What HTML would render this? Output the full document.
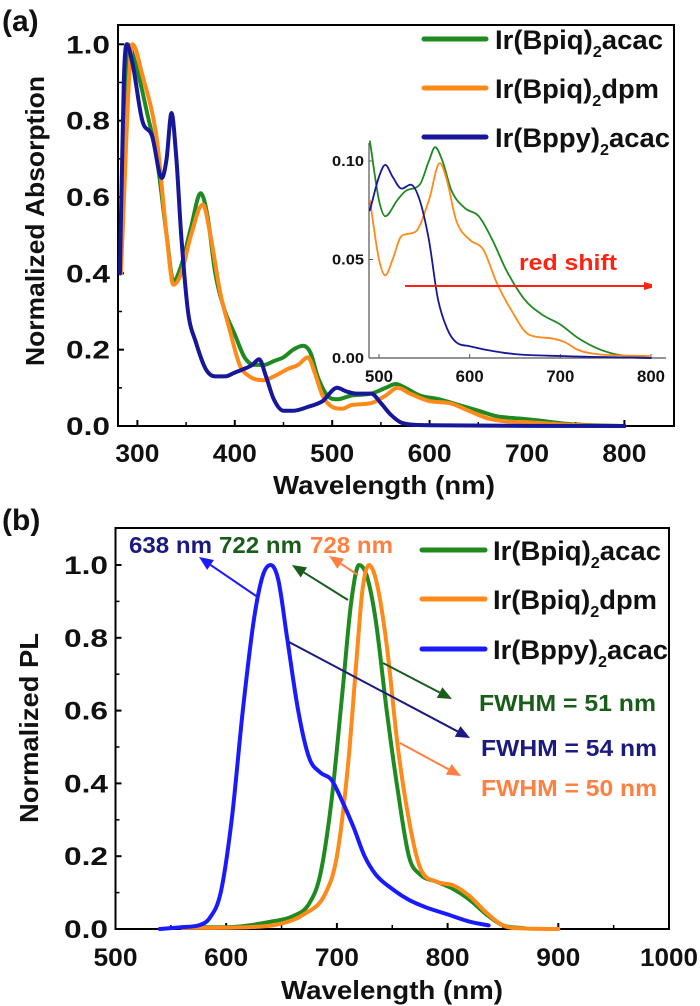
<!DOCTYPE html>
<html><head><meta charset="utf-8"><style>
html,body{margin:0;padding:0;background:#fff;}
svg{display:block;font-family:"Liberation Sans",sans-serif;font-weight:bold;}
</style></head><body>
<svg id="fig" width="700" height="1006" viewBox="0 0 700 1006">
<defs>
<marker id="mR" markerWidth="8" markerHeight="8" refX="7" refY="4" orient="auto" markerUnits="userSpaceOnUse"><path d="M0,0 L14,4 L0,8z" fill="#f21"/></marker>
</defs>
</svg>
<script>
// ---- panel (a) data ----
const absGreenX=[283,290,300,310,320,330,337,345,355,365,372,380,390,400,410,420,430,440,450,460,470,478,485,495,505,520,540,555,565,575,590,610,630,650,670,690,710,740,770,800];
const absGreenY=[0.4,1.0,0.93,0.82,0.7,0.5,0.38,0.42,0.52,0.61,0.55,0.4,0.3,0.24,0.18,0.16,0.16,0.17,0.18,0.2,0.21,0.19,0.13,0.08,0.07,0.08,0.085,0.1,0.11,0.1,0.08,0.07,0.055,0.04,0.025,0.02,0.015,0.006,0.002,0];
const absOrangeX=[283,295,305,320,330,337,345,355,367,375,385,395,405,415,430,440,455,465,475,482,490,500,510,520,540,555,567,580,600,620,640,660,680,700,730,770,800];
const absOrangeY=[0.4,1.0,0.92,0.75,0.5,0.37,0.4,0.5,0.58,0.5,0.35,0.25,0.16,0.13,0.12,0.13,0.15,0.16,0.18,0.14,0.08,0.05,0.045,0.055,0.06,0.08,0.1,0.085,0.065,0.06,0.04,0.02,0.012,0.01,0.005,0.001,0];
const absBlueX=[282,286,289,295,305,315,325,330,335,340,345,352,360,370,380,390,400,410,418,425,432,440,450,460,475,490,505,515,525,540,550,560,570,580,600,800];
const absBlueY=[0.4,0.9,1.0,0.95,0.8,0.76,0.65,0.7,0.82,0.7,0.5,0.3,0.22,0.15,0.13,0.13,0.14,0.15,0.16,0.175,0.13,0.07,0.04,0.04,0.05,0.065,0.1,0.09,0.085,0.085,0.06,0.03,0.01,0.004,0.002,0];
const insGreenX=[490,500,507,520,530,545,555,562,570,580,595,610,625,640,660,680,700,720,740,760,800];
const insGreenY=[0.11,0.08,0.072,0.08,0.085,0.088,0.1,0.107,0.1,0.085,0.076,0.072,0.06,0.045,0.03,0.022,0.017,0.01,0.005,0.002,0];
const insOrangeX=[490,500,507,515,525,540,555,567,575,585,600,615,630,645,665,690,705,720,740,800];
const insOrangeY=[0.08,0.05,0.042,0.05,0.062,0.064,0.08,0.099,0.09,0.07,0.06,0.055,0.038,0.025,0.012,0.01,0.008,0.004,0.002,0.001];
const insBlueX=[490,500,507,515,525,535,545,555,565,575,585,600,620,650,700,800];
const insBlueY=[0.075,0.092,0.098,0.092,0.086,0.088,0.08,0.06,0.03,0.015,0.008,0.006,0.004,0.002,0.001,0];
const aXTicks=[300,400,500,600,700,800];
const aYTicks=[0,0.2,0.4,0.6,0.8,1.0];
const insXTicks=[500,600,700,800];
const insYTicks=[0,0.05,0.10];
// ---- panel (b) data ----
const plBlueX=[540,560,575,585,595,605,615,625,633,640,647,655,665,675,685,695,705,715,725,735,750,765,780,800,820,837];
const plBlueY=[0,0.005,0.01,0.03,0.1,0.3,0.6,0.85,0.97,1.0,0.96,0.8,0.6,0.47,0.43,0.41,0.35,0.28,0.2,0.15,0.11,0.08,0.06,0.04,0.02,0.01];
const plGreenX=[560,600,640,660,675,685,695,705,713,720,727,735,745,755,765,775,790,805,820,835,850,870];
const plGreenY=[0.005,0.005,0.02,0.035,0.07,0.15,0.35,0.65,0.9,1.0,0.97,0.85,0.6,0.38,0.2,0.15,0.13,0.11,0.08,0.04,0.01,0.002];
const plOrangeX=[560,620,650,670,690,700,710,718,723,729,736,745,755,765,775,790,805,820,835,850,865,900];
const plOrangeY=[0.003,0.005,0.015,0.04,0.1,0.2,0.45,0.75,0.93,1.0,0.95,0.78,0.5,0.3,0.17,0.13,0.12,0.09,0.045,0.01,0.002,0];
const bXTicks=[500,600,700,800,900,1000];
const bYTicks=[0,0.2,0.4,0.6,0.8,1.0];

const NS="http://www.w3.org/2000/svg";
const svg=document.getElementById('fig');
function mk(tag,attrs,parent,text){const e=document.createElementNS(NS,tag);for(const k in attrs)e.setAttribute(k,attrs[k]);if(text!==undefined)e.textContent=text;(parent||svg).appendChild(e);return e;}
function lin(d0,d1,r0,r1){return v=>r0+(v-d0)*(r1-r0)/(d1-d0);}
function series(xs,ys,sx,sy,color,w,name){
  // monotone cubic (Fritsch-Carlson) in pixel space: no overshoot
  const X=xs.map(sx),Y=ys.map(sy),n=X.length;
  const dl=[],m=[];
  for(let i=0;i<n-1;i++)dl.push((Y[i+1]-Y[i])/(X[i+1]-X[i]));
  m[0]=dl[0];m[n-1]=dl[n-2];
  for(let i=1;i<n-1;i++)m[i]=(dl[i-1]*dl[i]<=0)?0:(dl[i-1]+dl[i])/2;
  for(let i=0;i<n-1;i++){if(dl[i]===0){m[i]=0;m[i+1]=0;continue;}
    const a=m[i]/dl[i],b=m[i+1]/dl[i],s=a*a+b*b;if(s>9){const t=3/Math.sqrt(s);m[i]=t*a*dl[i];m[i+1]=t*b*dl[i];}}
  let d='M'+X[0].toFixed(1)+','+Y[0].toFixed(1);
  for(let i=0;i<n-1;i++){const h=(X[i+1]-X[i])/3;
    d+=` C${(X[i]+h).toFixed(1)},${(Y[i]+m[i]*h).toFixed(1)} ${(X[i+1]-h).toFixed(1)},${(Y[i+1]-m[i+1]*h).toFixed(1)} ${X[i+1].toFixed(1)},${Y[i+1].toFixed(1)}`;}
  const p=mk('path',{d:d,fill:'none',stroke:color,'stroke-width':w,'stroke-linejoin':'round','stroke-linecap':'round'});
  
  
}
function frame(x0,y0,x1,y1,name){const r=mk('rect',{x:x0,y:y0,width:x1-x0,height:y1-y0,fill:'none',stroke:'#000','stroke-width':2});
  
  }
function txt(x,y,s,size,fill,anchor,name,extra){const t=mk('text',Object.assign({x:x,y:y,'font-size':size,fill:fill,'text-anchor':anchor||'start'},extra||{}),svg,s);
  
  return t;}
const SQ={lengthAdjust:'spacingAndGlyphs'};

// ===== Panel (a) =====
const ax=lin(300,800,137.4,624.4), ay=lin(0,1,426,44.3);
frame(118,25,674,426,'plot-frame-a');
aXTicks.forEach(v=>{mk('line',{x1:ax(v),x2:ax(v),y1:426,y2:420,stroke:'#000','stroke-width':2});
  txt(ax(v),462,String(v),25,'#111','middle','x-tick-label-a',Object.assign({textLength:44},SQ));
  if(v<800)mk('line',{x1:ax(v+50),x2:ax(v+50),y1:426,y2:422,stroke:'#000','stroke-width':1.5});});
aYTicks.forEach(v=>{mk('line',{x1:118,x2:124,y1:ay(v),y2:ay(v),stroke:'#000','stroke-width':2});
  txt(110,ay(v)+9,v.toFixed(1),25,'#111','end','y-tick-label-a',Object.assign({textLength:44},SQ));
  if(v<1)mk('line',{x1:118,x2:122,y1:ay(v+0.1),y2:ay(v+0.1),stroke:'#000','stroke-width':1.5});});
txt(384,494,'Wavelength (nm)',26,'#111','middle','x-axis-title-a',Object.assign({textLength:222},SQ));
txt(44,221,'Normalized Absorption',26,'#111','middle','y-axis-title-a',Object.assign({textLength:290,transform:'rotate(-90 44 221)'},SQ));
txt(2,31,'(a)',30,'#111','start','panel-label-a');
series(absGreenX,absGreenY,ax,ay,'#1f8a1f',4,'abs-line-bpiq-acac');
series(absOrangeX,absOrangeY,ax,ay,'#ff8a1a',4,'abs-line-bpiq-dpm');
series(absBlueX,absBlueY,ax,ay,'#17179a',4,'abs-line-bppy-acac');
// inset
const ix=lin(500,800,379,651), iy=lin(0,0.1,358,161);
mk('line',{x1:369,x2:369,y1:143,y2:358,stroke:'#555','stroke-width':1.2});
mk('line',{x1:369,x2:666,y1:358,y2:358,stroke:'#555','stroke-width':1.2});
insXTicks.forEach(v=>{mk('line',{x1:ix(v),x2:ix(v),y1:358,y2:354,stroke:'#555'});txt(ix(v),382,String(v),17,'#111','middle','inset-x-tick-label',Object.assign({textLength:28},SQ));});
insYTicks.forEach(v=>{mk('line',{x1:369,x2:373,y1:iy(v),y2:iy(v),stroke:'#555'});txt(364,iy(v)+5,v.toFixed(2),15,'#111','end','inset-y-tick-label',Object.assign({textLength:32},SQ));});
series(insGreenX,insGreenY,ix,iy,'#1f8a1f',1.8,'inset-line-bpiq-acac');
series(insOrangeX,insOrangeY,ix,iy,'#ff8a1a',1.8,'inset-line-bpiq-dpm');
series(insBlueX,insBlueY,ix,iy,'#17179a',1.8,'inset-line-bppy-acac');
txt(519,270,'red shift',22,'#f21','start','red-shift-label',Object.assign({textLength:98},SQ));
const ra=mk('line',{x1:405,y1:286,x2:651,y2:286,stroke:'#f21','stroke-width':2,'marker-end':'url(#mR)'});


// legend a
[['Ir(Bpiq)','acac','#1f8a1f',39,168],['Ir(Bpiq)','dpm','#ff8a1a',88,164],['Ir(Bppy)','acac','#17179a',137,175]].forEach(L=>{
  const g=mk('g',{});
  
  
  mk('line',{x1:424,x2:486,y1:L[3],y2:L[3],stroke:L[2],'stroke-width':5,'stroke-linecap':'round'},g);
  const t=mk('text',{x:495,y:L[3]+10,'font-size':27,fill:'#111'},g);
  mk('tspan',{},t,L[0]);mk('tspan',{dy:8,'font-size':16},t,'2');mk('tspan',{dy:-8},t,L[1]);
  t.setAttribute('textLength',L[4]);t.setAttribute('lengthAdjust','spacingAndGlyphs');
});

// ===== Panel (b) =====
const bx=lin(500,1000,115.5,669), by=lin(0,1,929,565);
frame(115.5,528,669,929,'plot-frame-b');
bXTicks.forEach(v=>{mk('line',{x1:bx(v),x2:bx(v),y1:929,y2:923,stroke:'#000','stroke-width':2});
  txt(bx(v),966,String(v),25,'#111','middle','x-tick-label-b',Object.assign({textLength:v>=1000?58:44},SQ));
  if(v<1000)mk('line',{x1:bx(v+50),x2:bx(v+50),y1:929,y2:925,stroke:'#000','stroke-width':1.5});});
bYTicks.forEach(v=>{mk('line',{x1:115.5,x2:121.5,y1:by(v),y2:by(v),stroke:'#000','stroke-width':2});
  txt(108,by(v)+9,v.toFixed(1),25,'#111','end','y-tick-label-b',Object.assign({textLength:44},SQ));
  if(v<1)mk('line',{x1:115.5,x2:119.5,y1:by(v+0.1),y2:by(v+0.1),stroke:'#000','stroke-width':1.5});});
txt(392,999,'Wavelength (nm)',26,'#111','middle','x-axis-title-b',Object.assign({textLength:222},SQ));
txt(38,728,'Normalized PL',26,'#111','middle','y-axis-title-b',Object.assign({textLength:190,transform:'rotate(-90 38 728)'},SQ));
txt(2,530,'(b)',30,'#111','start','panel-label-b');
series(plGreenX,plGreenY,bx,by,'#1f8a1f',4,'pl-line-bpiq-acac');
series(plOrangeX,plOrangeY,bx,by,'#ff8a1a',4,'pl-line-bpiq-dpm');
series(plBlueX,plBlueY,bx,by,'#1a1aff',4,'pl-line-bppy-acac');
[['Ir(Bpiq)','acac','#1f8a1f',550,168],['Ir(Bpiq)','dpm','#ff8a1a',599,164],['Ir(Bppy)','acac','#1a1aff',649,175]].forEach(L=>{
  const g=mk('g',{});
  
  
  mk('line',{x1:422,x2:485,y1:L[3],y2:L[3],stroke:L[2],'stroke-width':5,'stroke-linecap':'round'},g);
  const t=mk('text',{x:493,y:L[3]+10,'font-size':27,fill:'#111'},g);
  mk('tspan',{},t,L[0]);mk('tspan',{dy:8,'font-size':16},t,'2');mk('tspan',{dy:-8},t,L[1]);
  t.setAttribute('textLength',L[4]);t.setAttribute('lengthAdjust','spacingAndGlyphs');
});
// annotations
txt(129,553,'638 nm',23,'#1a1a80','start','peak-label-638',Object.assign({textLength:83},SQ));
txt(219,553,'722 nm',23,'#1a5c1a','start','peak-label-722',Object.assign({textLength:83},SQ));
txt(310,553,'728 nm',23,'#ff8040','start','peak-label-728',Object.assign({textLength:83},SQ));
txt(479,711,'FWHM = 51 nm',23,'#1a5c1a','start','fwhm-label-51',Object.assign({textLength:177},SQ));
txt(481,756,'FWHM = 54 nm',23,'#1a1a80','start','fwhm-label-54',Object.assign({textLength:176},SQ));
txt(481,796,'FWHM = 50 nm',23,'#ff8040','start','fwhm-label-50',Object.assign({textLength:176},SQ));
function arrow(x1,y1,x2,y2,c,name){
  const g=mk('g',{});
  
  
  const a=Math.atan2(y2-y1,x2-x1),L=14,W=6;
  const bxp=x2-L*Math.cos(a),byp=y2-L*Math.sin(a);
  mk('line',{x1:x1,y1:y1,x2:bxp,y2:byp,stroke:c,'stroke-width':2},g);
  mk('path',{d:`M${x2},${y2} L${bxp+W*Math.sin(a)},${byp-W*Math.cos(a)} L${bxp-W*Math.sin(a)},${byp+W*Math.cos(a)}Z`,fill:c},g);
}
arrow(259,598,199,557,'#1a1aff','arrow-peak-638');
arrow(348,600,292,565,'#1a5c1a','arrow-peak-722');
arrow(358,575,329,556,'#ff8040','arrow-peak-728');
arrow(383,663,452,699,'#1a5c1a','arrow-fwhm-51');
arrow(289,642,470,738,'#1a1a80','arrow-fwhm-54');
arrow(400,743,461,776,'#ff8040','arrow-fwhm-50');
</script>
</body></html>
